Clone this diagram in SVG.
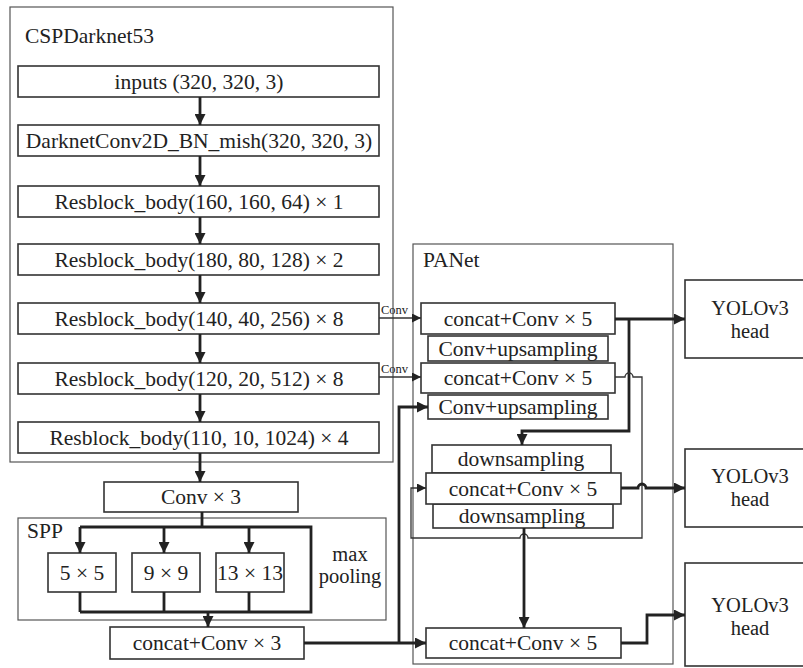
<svg xmlns="http://www.w3.org/2000/svg" width="803" height="668" viewBox="0 0 803 668" font-family="'Liberation Serif', 'DejaVu Serif', serif">
<style>
text{font-family:"Liberation Serif","DejaVu Serif",serif;fill:#222;font-size:21.5px}
.c{text-anchor:middle;dominant-baseline:central}
.box{fill:#fff;stroke:#333;stroke-width:1.6}
.grp{fill:none;stroke:#555;stroke-width:1.2}
.thick{fill:none;stroke:#222;stroke-width:2.8}
.thin{fill:none;stroke:#333;stroke-width:1.3}
.sm{font-size:12.5px}
.two{font-size:20.5px}
</style>
<defs>
<marker id="ah" viewBox="0 0 10 10" refX="10" refY="5" markerUnits="userSpaceOnUse" markerWidth="12" markerHeight="11" orient="auto"><path d="M0,0 L10,5 L0,10 z" fill="#222"/></marker>
<marker id="as" viewBox="0 0 10 10" refX="10" refY="5" markerUnits="userSpaceOnUse" markerWidth="10" markerHeight="9" orient="auto"><path d="M0,0 L10,5 L0,10 z" fill="#222"/></marker>
</defs>
<rect width="803" height="668" fill="#fff"/>

<g id="CSPDarknet53">
<rect class="grp" x="10" y="7" width="383" height="455"/>
<text x="25" y="43">CSPDarknet53</text>
</g>
<g id="inputs"><rect class="box" x="18" y="66" width="361" height="31"/><text class="c" x="199" y="81.5">inputs (320, 320, 3)</text></g>
<g id="darknetconv"><rect class="box" x="18" y="125" width="361" height="31"/><text class="c" x="199" y="140.5">DarknetConv2D_BN_mish(320, 320, 3)</text></g>
<g id="res1"><rect class="box" x="18" y="186" width="361" height="31"/><text class="c" x="199" y="201.5">Resblock_body(160, 160, 64) × 1</text></g>
<g id="res2"><rect class="box" x="18" y="244" width="361" height="31"/><text class="c" x="199" y="259.5">Resblock_body(180, 80, 128) × 2</text></g>
<g id="res3"><rect class="box" x="18" y="303" width="361" height="31"/><text class="c" x="199" y="318.5">Resblock_body(140, 40, 256) × 8</text></g>
<g id="res4"><rect class="box" x="18" y="363" width="361" height="31"/><text class="c" x="199" y="378.5">Resblock_body(120, 20, 512) × 8</text></g>
<g id="res5"><rect class="box" x="18" y="422" width="361" height="31"/><text class="c" x="199" y="437.5">Resblock_body(110, 10, 1024) × 4</text></g>

<g id="conv3"><rect class="box" x="104" y="482" width="194" height="30"/><text class="c" x="201" y="497">Conv × 3</text></g>

<g id="SPP">
<rect class="grp" x="18" y="518" width="368" height="102"/>
<text x="27" y="538">SPP</text>
<text class="c two" x="350" y="554">max</text>
<text class="c two" x="350" y="576">pooling</text>
</g>
<g id="pool5"><rect class="box" x="48" y="553" width="68" height="39"/><text class="c" x="82" y="572.5">5 × 5</text></g>
<g id="pool9"><rect class="box" x="132" y="553" width="68" height="39"/><text class="c" x="166" y="572.5">9 × 9</text></g>
<g id="pool13"><rect class="box" x="216" y="553" width="68" height="39"/><text class="c" x="250" y="572.5">13 × 13</text></g>

<g id="concatConv3"><rect class="box" x="110" y="627" width="194" height="32"/><text class="c" x="207" y="643">concat+Conv × 3</text></g>

<g id="PANet">
<rect class="grp" x="413" y="244" width="260" height="420"/>
<text x="423" y="267">PANet</text>
</g>
<g id="concat5a"><rect class="box" x="421" y="303" width="194" height="31"/><text class="c" x="518" y="318.5">concat+Conv × 5</text></g>
<g id="upsA"><rect class="box" x="428" y="336" width="180" height="25"/><text class="c" x="518" y="348.5">Conv+upsampling</text></g>
<g id="concat5b"><rect class="box" x="421" y="363" width="194" height="30"/><text class="c" x="518" y="378">concat+Conv × 5</text></g>
<g id="upsB"><rect class="box" x="428" y="395" width="180" height="24"/><text class="c" x="518" y="407">Conv+upsampling</text></g>
<g id="downA"><rect class="box" x="432" y="445" width="179" height="28"/><text class="c" x="521" y="459">downsampling</text></g>
<g id="downB"><rect class="box" x="433" y="504" width="180" height="24"/><text class="c" x="522" y="516">downsampling</text></g>
<g id="concat5c"><rect class="box" x="426" y="473" width="195" height="31"/><text class="c" x="523" y="488.5">concat+Conv × 5</text></g>
<g id="concat5d"><rect class="box" x="426" y="628" width="195" height="30"/><text class="c" x="523" y="643">concat+Conv × 5</text></g>

<g id="head1"><rect class="box" x="685" y="280" width="130" height="78"/><text class="c two" x="750" y="308">YOLOv3</text><text class="c two" x="750" y="331">head</text></g>
<g id="head2"><rect class="box" x="685" y="449" width="130" height="78"/><text class="c two" x="750" y="476">YOLOv3</text><text class="c two" x="750" y="499">head</text></g>
<g id="head3"><rect class="box" x="685" y="563" width="130" height="103"/><text class="c two" x="750" y="605">YOLOv3</text><text class="c two" x="750" y="628">head</text></g>

<g id="connectors">
<path class="thick" d="M200,97 V125" marker-end="url(#ah)"/>
<path class="thick" d="M200,156 V186" marker-end="url(#ah)"/>
<path class="thick" d="M200,217 V244" marker-end="url(#ah)"/>
<path class="thick" d="M200,275 V303" marker-end="url(#ah)"/>
<path class="thick" d="M200,334 V363" marker-end="url(#ah)"/>
<path class="thick" d="M200,394 V422" marker-end="url(#ah)"/>
<path class="thick" d="M200,453 V482" marker-end="url(#ah)"/>
<path class="thick" d="M202,512 V527 M80,527 H311 V612 H80 M164,592 V612 M249,592 V612 M80,592 V612"/>
<path class="thick" d="M80,527 V553" marker-end="url(#ah)"/>
<path class="thick" d="M164,527 V553" marker-end="url(#ah)"/>
<path class="thick" d="M249,527 V553" marker-end="url(#ah)"/>
<path class="thick" d="M208,612 V627" marker-end="url(#ah)"/>
<path class="thin" d="M379,318 H421" marker-end="url(#as)"/>
<text class="sm" x="381" y="314">Conv</text>
<path class="thin" d="M379,377 H421" marker-end="url(#as)"/>
<text class="sm" x="381" y="373">Conv</text>
<path class="thick" d="M304,643 H426" marker-end="url(#ah)"/>
<path class="thick" d="M399,643 V407 H428" marker-end="url(#ah)"/>
<path class="thick" d="M615,319 H685" marker-end="url(#ah)"/>
<path class="thick" d="M629,319 V431 H522 V445" marker-end="url(#ah)"/>
<path class="thin" d="M615,377 H625 a4,4 0 0 1 8,0 H642 V538 H528 a4,4 0 0 0 -8,0 H411 V488 H426" marker-end="url(#as)"/>
<path class="thick" d="M621,488 H638 a4,4 0 0 1 8,0 H685" marker-end="url(#ah)"/>
<path class="thick" d="M524,528 V628" marker-end="url(#ah)"/>
<path class="thick" d="M621,643 H647 V615 H685" marker-end="url(#ah)"/>
</g>
</svg>
